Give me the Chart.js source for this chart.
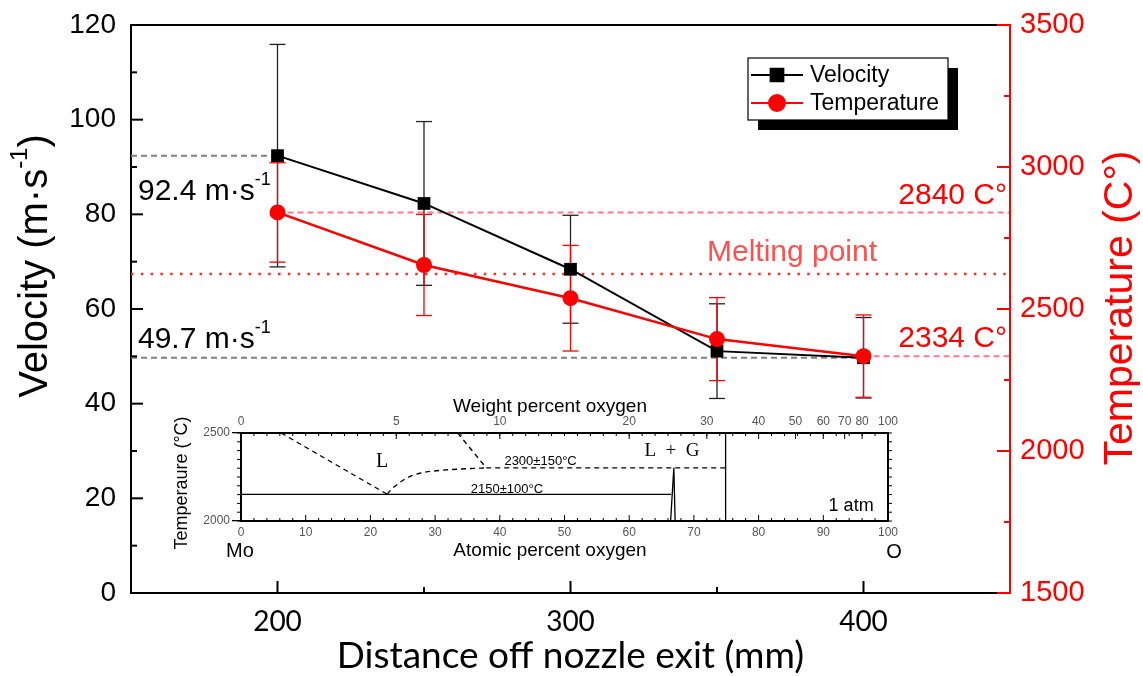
<!DOCTYPE html>
<html lang="en">
<head>
  <meta charset="UTF-8" />
  <title>Velocity and temperature vs distance off nozzle exit</title>
  <script src="https://cdn.jsdelivr.net/npm/chart.js"></script>
  <style>
    body { margin: 0; background: #fff; }
    #wrap { position: relative; width: 1143px; height: 676px; }
    #mainChart { position: absolute; left: 0; top: 0; }
    #insetChart { position: absolute; left: 165px; top: 395px; }
  </style>
</head>
<body>
  <div id="wrap">
    <canvas id="mainChart" width="1143" height="676"></canvas>
    <canvas id="insetChart" width="740" height="170"></canvas>
  </div>

  <script>
    // ---- main chart data ----
    const distances = [200, 250, 300, 350, 400];
    const velocity = [92.4, 82.3, 68.4, 51.1, 49.7];
    const velocityErr = [23.5, 17.3, 11.4, 10.0, 8.5];
    const temperature = [2840, 2655, 2538, 2394, 2334];
    const temperatureErr = [175, 178, 186, 146, 145];

    const distanceTicks = [200, 300, 400];
    const velocityTicks = [0, 20, 40, 60, 80, 100, 120];
    const temperatureTicks = [1500, 2000, 2500, 3000, 3500];

    const velocityMarks = [92.4, 49.7];
    const temperatureMarks = [2840, 2334];
    const meltingPoint = 2623;

    // ---- inset (Mo-O phase diagram) data ----
    const atomicTicks = [0, 10, 20, 30, 40, 50, 60, 70, 80, 90, 100];
    const weightLabels = ['0', '5', '10', '20', '30', '40', '50', '60', '70', '80', '100'];
    const weightAtAtomic = [0, 24, 40, 60, 72, 80, 85.7, 90, 93.3, 96, 100];
    const insetTempTicks = [2000, 2500];

    const liquidusLeft = [[6.2, 2500], [22.6, 2152]];
    const liquidusCurve = [[22.6, 2152], [23.3, 2182], [24.3, 2212], [25.4, 2240], [26.5, 2259],
                           [28, 2274], [29.5, 2283], [32.5, 2292], [35.5, 2298], [37.9, 2302]];
    const liquidusRight = [[33.5, 2500], [37.9, 2302]];
    const monotectic = [[37.9, 2302], [74.9, 2302]];
    const eutectic = [[0, 2151], [66.5, 2151]];
    const moo2 = [[66.4, 2000], [66.9, 2302], [67.1, 2000]];
    const moo3 = [[74.9, 2000], [74.9, 2500]];

    const SANS = "'Liberation Sans', Arial, sans-serif";
    const RED = '#ff0000';

    function line(ctx, x1, y1, x2, y2) {
      ctx.beginPath();
      ctx.moveTo(x1, y1);
      ctx.lineTo(x2, y2);
      ctx.stroke();
    }

    // text with a superscript part: parts = [[text, isSup], ...]
    function drawRich(ctx, parts, x, y, size, align) {
      const supSize = Math.round(size * 0.6);
      ctx.textBaseline = 'alphabetic';
      ctx.textAlign = 'left';
      let total = 0;
      const widths = parts.map(([t, sup]) => {
        ctx.font = `${sup ? supSize : size}px ${SANS}`;
        const w = ctx.measureText(t).width;
        total += w;
        return w;
      });
      let cx = align === 'center' ? x - total / 2 : align === 'right' ? x - total : x;
      parts.forEach(([t, sup], i) => {
        ctx.font = `${sup ? supSize : size}px ${SANS}`;
        ctx.fillText(t, cx, sup ? y - size * 0.5 : y);
        cx += widths[i];
      });
    }

    // keep the plot area where the picture has it
    function fixWidth(w) {
      return s => { s.width = w; s.paddingTop = 0; s.paddingBottom = 0; };
    }
    function fixHeight(h) {
      return s => { s.height = h; s.paddingLeft = 0; s.paddingRight = 0; };
    }

    const errorBars = {
      id: 'errorBars',
      beforeDatasetDraw(chart, args) {
        if (chart.data.datasets[args.index].label !== 'Velocity') return;
        const { ctx, scales } = chart;
        const sets = [
          { vals: velocity, errs: velocityErr, scale: scales.y, color: '#222' },
          { vals: temperature, errs: temperatureErr, scale: scales.y1, color: RED }
        ];
        ctx.save();
        ctx.lineWidth = 1.3;
        sets.forEach(s => {
          ctx.strokeStyle = s.color;
          distances.forEach((d, i) => {
            const x = scales.x.getPixelForValue(d);
            const yt = s.scale.getPixelForValue(s.vals[i] + s.errs[i]);
            const yb = s.scale.getPixelForValue(s.vals[i] - s.errs[i]);
            line(ctx, x, yt, x, yb);
            line(ctx, x - 8, yt, x + 8, yt);
            line(ctx, x - 8, yb, x + 8, yb);
          });
        });
        ctx.restore();
      }
    };

    const frameAndTicks = {
      id: 'frameAndTicks',
      afterDraw(chart) {
        const { ctx, chartArea: a, scales } = chart;
        ctx.save();
        ctx.lineWidth = 2;
        ctx.strokeStyle = '#000';
        line(ctx, a.left, a.top, a.right, a.top);
        for (let v = scales.y.min; v <= scales.y.max; v += 10) {
          const y = scales.y.getPixelForValue(v);
          line(ctx, a.left, y, a.left + (v % 20 === 0 ? 12 : 6), y);
        }
        for (let v = scales.x.min; v <= scales.x.max; v += 50) {
          const x = scales.x.getPixelForValue(v);
          line(ctx, x, a.bottom, x, a.bottom - (v % 100 === 0 ? 12 : 6));
        }
        ctx.strokeStyle = RED;
        for (let v = scales.y1.min; v <= scales.y1.max; v += 250) {
          const y = scales.y1.getPixelForValue(v);
          line(ctx, a.right, y, a.right - (v % 500 === 0 ? 13 : 6), y);
        }
        line(ctx, a.right, a.top - 1, a.right, a.bottom + 1);
        ctx.restore();
      }
    };

    const labelsAndLegend = {
      id: 'labelsAndLegend',
      afterDraw(chart) {
        const { ctx, chartArea: a, scales } = chart;
        ctx.save();

        // guide-line labels
        ctx.fillStyle = '#000';
        drawRich(ctx, [['92.4 m\u00b7s', false], ['-1', true]], a.left + 7,
                 scales.y.getPixelForValue(velocityMarks[0]) + 44, 30, 'left');
        drawRich(ctx, [['49.7 m\u00b7s', false], ['-1', true]], a.left + 7,
                 scales.y.getPixelForValue(velocityMarks[1]) - 10, 30, 'left');
        ctx.fillStyle = RED;
        drawRich(ctx, [[temperatureMarks[0] + ' C\u00b0', false]], a.right - 3,
                 scales.y1.getPixelForValue(temperatureMarks[0]) - 8, 30, 'right');
        drawRich(ctx, [[temperatureMarks[1] + ' C\u00b0', false]], a.right - 3,
                 scales.y1.getPixelForValue(temperatureMarks[1]) - 9, 30, 'right');
        ctx.fillStyle = '#ff5050';
        drawRich(ctx, [['Melting point', false]], 792,
                 scales.y1.getPixelForValue(meltingPoint) - 13, 30, 'center');

        // axis titles (rotated)
        ctx.fillStyle = '#000';
        ctx.save();
        ctx.translate(47, 266);
        ctx.rotate(-Math.PI / 2);
        drawRich(ctx, [['Velocity (m\u00b7s', false], ['-1', true], [')', false]], 0, 0, 40, 'center');
        ctx.restore();
        ctx.fillStyle = RED;
        ctx.save();
        ctx.translate(1132, 308);
        ctx.rotate(-Math.PI / 2);
        drawRich(ctx, [['Temperature (C\u00b0)', false]], 0, 0, 41, 'center');
        ctx.restore();

        // legend with drop shadow
        const lx = 748, ly = 58, lw = 200, lh = 62;
        ctx.fillStyle = '#000';
        ctx.fillRect(lx + 10, ly + 10, lw, lh);
        ctx.fillStyle = '#fff';
        ctx.fillRect(lx, ly, lw, lh);
        ctx.lineWidth = 1.2;
        ctx.strokeStyle = '#000';
        ctx.strokeRect(lx, ly, lw, lh);
        const rows = chart.data.datasets.filter(d => d.inLegend);
        rows.forEach((d, i) => {
          const cy = ly + 17 + i * 28;
          ctx.strokeStyle = d.borderColor;
          ctx.lineWidth = 2;
          line(ctx, lx + 3, cy, lx + 55, cy);
          Chart.helpers.drawPoint(ctx, {
            pointStyle: d.pointStyle, radius: d.pointRadius, borderWidth: 1, rotation: 0
          }, lx + 29, cy);
          ctx.fillStyle = d.borderColor;
          ctx.fill();
          ctx.fillStyle = '#000';
          ctx.font = `23px ${SANS}`;
          ctx.textAlign = 'left';
          ctx.textBaseline = 'middle';
          ctx.fillText(d.label, lx + 62, cy + 1);
        });
        ctx.restore();
      }
    };

    function guide(points, axis, color, dash, width) {
      return {
        label: 'guide', data: points.map(([x, y]) => ({ x, y })), yAxisID: axis,
        borderColor: color, borderDash: dash, borderWidth: width, pointRadius: 0,
        fill: false, order: 10, borderCapStyle: 'butt'
      };
    }

    const plain = v => String(v);

    new Chart(document.getElementById('mainChart'), {
      type: 'line',
      data: {
        datasets: [
          guide([[150, velocityMarks[0]], [distances[0], velocityMarks[0]]], 'y', '#808080', [6, 4], 2),
          guide([[150, velocityMarks[1]], [distances[4], velocityMarks[1]]], 'y', '#808080', [6, 4], 2),
          guide([[distances[0], temperatureMarks[0]], [450, temperatureMarks[0]]], 'y1', '#ff7a8a', [6, 4], 2),
          guide([[distances[4], temperatureMarks[1]], [450, temperatureMarks[1]]], 'y1', '#ff7a8a', [6, 4], 2),
          guide([[150, meltingPoint], [450, meltingPoint]], 'y1', '#ff2a2a', [2.5, 7.3], 2.5),
          {
            label: 'Velocity', inLegend: true,
            data: distances.map((d, i) => ({ x: d, y: velocity[i] })), yAxisID: 'y',
            borderColor: '#000', backgroundColor: '#000', borderWidth: 2,
            pointStyle: 'rect', pointRadius: 9, pointBorderWidth: 0, order: 2
          },
          {
            label: 'Temperature', inLegend: true,
            data: distances.map((d, i) => ({ x: d, y: temperature[i] })), yAxisID: 'y1',
            borderColor: RED, backgroundColor: RED, borderWidth: 2.5,
            pointStyle: 'circle', pointRadius: 8, pointBorderWidth: 0, order: 1
          }
        ]
      },
      options: {
        responsive: false,
        animation: false,
        layout: { padding: { top: 25, left: 0, right: 0, bottom: 0 } },
        plugins: { legend: { display: false }, tooltip: { enabled: false } },
        scales: {
          x: {
            type: 'linear', min: 150, max: 450,
            afterBuildTicks: s => { s.ticks = distanceTicks.map(v => ({ value: v })); },
            afterFit: fixHeight(83),
            grid: { display: false, drawTicks: false },
            border: { display: true, color: '#000', width: 2 },
            ticks: { font: { family: 'Lato', size: 28 }, color: '#000', padding: 12, maxRotation: 0, callback: plain },
            title: {
              display: true, text: 'Distance off nozzle exit (mm)', color: '#000',
              font: { family: 'Lato', size: 37, lineHeight: 1 }, padding: { top: 0, bottom: 1 }
            }
          },
          y: {
            type: 'linear', position: 'left', min: 0, max: 120,
            afterBuildTicks: s => { s.ticks = velocityTicks.map(v => ({ value: v })); },
            afterFit: fixWidth(131),
            grid: { display: false, drawTicks: false },
            border: { display: true, color: '#000', width: 2 },
            ticks: { font: { family: SANS, size: 28 }, color: '#000', padding: 15, callback: plain }
          },
          y1: {
            type: 'linear', position: 'right', min: 1500, max: 3500,
            afterBuildTicks: s => { s.ticks = temperatureTicks.map(v => ({ value: v })); },
            afterFit: fixWidth(133),
            grid: { display: false, drawTicks: false },
            border: { display: false },
            ticks: { font: { family: SANS, size: 29 }, color: RED, padding: 10, callback: plain }
          }
        }
      },
      plugins: [errorBars, frameAndTicks, labelsAndLegend]
    });

    // ---- inset chart ----
    const insetDecor = {
      id: 'insetDecor',
      afterDraw(chart) {
        const { ctx, chartArea: a, scales } = chart;
        const X = v => scales.x.getPixelForValue(v);
        const Y = v => scales.y.getPixelForValue(v);
        ctx.save();
        ctx.strokeStyle = '#000';
        ctx.lineWidth = 1;
        for (let v = 0; v <= 100; v += 2) {
          const len = v % 10 === 0 ? 6 : 3;
          line(ctx, X(v), a.bottom, X(v), a.bottom - len);
          line(ctx, X(v), a.top, X(v), a.top + 3);
        }
        weightAtAtomic.forEach(v => line(ctx, X(v), a.top, X(v), a.top + 6));
        for (let t = 2000; t <= 2500; t += 50) {
          line(ctx, a.left, Y(t), a.left - 4, Y(t));
          line(ctx, a.right, Y(t), a.right + 4, Y(t));
        }
        ctx.lineWidth = 2;
        ctx.strokeRect(a.left, a.top, a.right - a.left, a.bottom - a.top);

        ctx.fillStyle = '#000';
        ctx.textAlign = 'center';
        ctx.textBaseline = 'middle';
        ctx.font = `20px 'Liberation Serif', serif`;
        ctx.fillText('L', X(21.8), Y(2338));
        ctx.font = `19px 'Liberation Serif', serif`;
        ctx.fillText('L  +  G', X(66.6), Y(2398));
        ctx.font = `13px ${SANS}`;
        ctx.fillText('2300\u00b1150\u00b0C', X(46.3), Y(2341));
        ctx.fillText('2150\u00b1100\u00b0C', X(41.1), Y(2180));
        ctx.font = `18px ${SANS}`;
        ctx.fillText('1 atm', X(94.3), Y(2087));

        ctx.font = `19px ${SANS}`;
        ctx.fillText('Weight percent oxygen', 385, 12);
        ctx.fillText('Atomic percent oxygen', 385, 156);
        ctx.font = `20px ${SANS}`;
        ctx.fillText('Mo', X(0) - 1, 156);
        ctx.fillText('O', X(100) + 6, 157);

        ctx.save();
        ctx.translate(17, 88);
        ctx.rotate(-Math.PI / 2);
        ctx.font = `18px ${SANS}`;
        ctx.fillText('Temperaure (\u00b0C)', 0, 0);
        ctx.restore();
        ctx.restore();
      }
    };

    function phase(points, dashed, tension) {
      return {
        data: points.map(([x, y]) => ({ x, y })), showLine: true, pointRadius: 0,
        borderColor: '#000', borderWidth: dashed ? 1.4 : 1.3, borderDash: dashed ? [5, 4] : [],
        tension: tension || 0, cubicInterpolationMode: tension ? 'monotone' : 'default', fill: false
      };
    }

    const insetTickFont = { family: SANS, size: 12 };
    new Chart(document.getElementById('insetChart'), {
      type: 'scatter',
      data: {
        datasets: [
          phase(liquidusLeft, true),
          phase(liquidusCurve, true, 0.4),
          phase(liquidusRight, true),
          phase(monotectic, true),
          phase(eutectic, false),
          phase(moo2, false),
          phase(moo3, false)
        ]
      },
      options: {
        responsive: false,
        animation: false,
        layout: { padding: { right: 17 } },
        plugins: { legend: { display: false }, tooltip: { enabled: false } },
        scales: {
          x: {
            type: 'linear', position: 'bottom', min: 0, max: 100,
            afterBuildTicks: s => { s.ticks = atomicTicks.map(v => ({ value: v })); },
            afterFit: fixHeight(44),
            grid: { display: false, drawTicks: false },
            border: { display: false },
            ticks: { font: insetTickFont, color: '#555', padding: 4, maxRotation: 0, autoSkip: false, callback: plain }
          },
          xTop: {
            type: 'linear', position: 'top', min: 0, max: 100,
            afterBuildTicks: s => { s.ticks = weightAtAtomic.map(v => ({ value: v })); },
            afterFit: fixHeight(38),
            grid: { display: false, drawTicks: false },
            border: { display: false },
            ticks: {
              font: insetTickFont, color: '#555', padding: 4, maxRotation: 0, autoSkip: false,
              callback: (v, i) => weightLabels[i]
            }
          },
          y: {
            type: 'linear', position: 'left', min: 2000, max: 2500,
            afterBuildTicks: s => { s.ticks = insetTempTicks.map(v => ({ value: v })); },
            afterFit: fixWidth(76),
            grid: { drawOnChartArea: false, drawTicks: true, tickLength: 9, color: '#000', lineWidth: 1.3 },
            border: { display: false },
            ticks: { font: insetTickFont, color: '#555', padding: 2, callback: plain }
          }
        }
      },
      plugins: [insetDecor]
    });
  </script>
</body>
</html>
